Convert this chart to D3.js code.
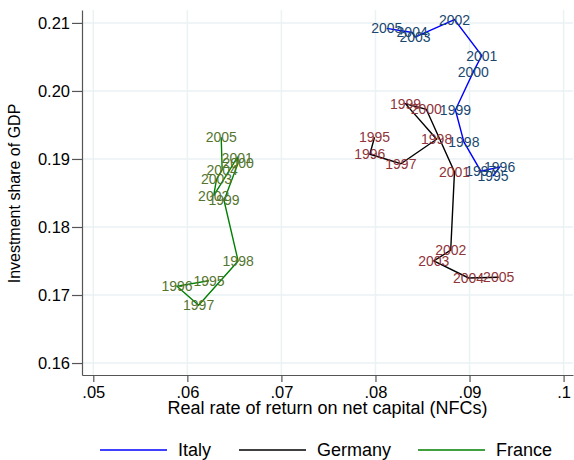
<!DOCTYPE html>
<html>
<head>
<meta charset="utf-8">
<script src="https://cdn.jsdelivr.net/npm/d3@7"></script>
<style>
  body { margin: 0; background: #fff; }
  text { font-family: 'Liberation Sans', Arial, sans-serif; }
</style>
</head>
<body>
<div id="grafica"></div>
<script>
const years = [1995, 1996, 1997, 1998, 1999, 2000, 2001, 2002, 2003, 2004, 2005]

// rate of return (x) and investment share (y) by country
const italyX = [0.0925, 0.0932, 0.0912, 0.0894, 0.0885, 0.0904, 0.0913, 0.0884, 0.0842, 0.0839, 0.0812]
const italyY = [0.1875, 0.1888, 0.1882, 0.1925, 0.1972, 0.2028, 0.2052, 0.2105, 0.2079, 0.2086, 0.2092]

const germanyX = [0.0799, 0.0794, 0.0827, 0.0865, 0.0832, 0.0854, 0.0884, 0.0880, 0.0862, 0.0899, 0.0931]
const germanyY = [0.1932, 0.1907, 0.1893, 0.1929, 0.1981, 0.1973, 0.1881, 0.1766, 0.1750, 0.1725, 0.1726]

const franceX = [0.0623, 0.0589, 0.0612, 0.0654, 0.0639, 0.0654, 0.0653, 0.0628, 0.0631, 0.0637, 0.0636]
const franceY = [0.1721, 0.1713, 0.1685, 0.1750, 0.1839, 0.1894, 0.1902, 0.1846, 0.1870, 0.1884, 0.1932]

const xTicks = [0.05, 0.06, 0.07, 0.08, 0.09, 0.1]
const xTickLabels = ['.05', '.06', '.07', '.08', '.09', '.1']
const yTicks = [0.16, 0.17, 0.18, 0.19, 0.20, 0.21]
const yTickLabels = ['0.16', '0.17', '0.18', '0.19', '0.20', '0.21']

const countries = ['Italy', 'Germany', 'France']

const series = [
    { name: 'Italy', xs: italyX, ys: italyY, line: '#0000ff', label: '#1a476f' },
    { name: 'Germany', xs: germanyX, ys: germanyY, line: '#000000', label: '#90353b' },
    { name: 'France', xs: franceX, ys: franceY, line: '#008000', label: '#55752f' }
]

const margin = { top: 10, right: 1, bottom: 85, left: 82 }
const width = 574 - margin.left - margin.right
const height = 460 - margin.top - margin.bottom
const gridColor = '#eaf2f3'
const axisColor = '#555'

const svg = d3.select('#grafica')
    .append('svg')
    .attr('width', 574)
    .attr('height', 460)
    .append('g')
    .attr('transform', `translate(${margin.left}, ${margin.top})`)

const x = d3.scaleLinear()
    .domain([0.0488, 0.1010])
    .range([0, width])

const y = d3.scaleLinear()
    .domain([0.15824, 0.2119])
    .range([height, 0])

// grid
svg.selectAll('.hgrid')
    .data(yTicks)
    .enter().append('line')
    .attr('x1', 0).attr('x2', width)
    .attr('y1', d => y(d)).attr('y2', d => y(d))
    .style('stroke', gridColor).style('stroke-width', 1.5)

svg.selectAll('.vgrid')
    .data(xTicks)
    .enter().append('line')
    .attr('x1', d => x(d)).attr('x2', d => x(d))
    .attr('y1', 0).attr('y2', height)
    .style('stroke', gridColor).style('stroke-width', 1.5)

// axes
const xAxis = svg.append('g')
    .attr('transform', `translate(0, ${height})`)
    .call(d3.axisBottom(x).tickValues(xTicks).tickFormat((d, i) => xTickLabels[i]).tickSize(7).tickSizeOuter(0).tickPadding(4))

const yAxis = svg.append('g')
    .call(d3.axisLeft(y).tickValues(yTicks).tickFormat((d, i) => yTickLabels[i]).tickSize(10).tickSizeOuter(0).tickPadding(2))

svg.selectAll('.domain, .tick line').style('stroke', axisColor).style('stroke-width', 1.2)
svg.selectAll('.tick text').style('font-size', '16.5px').style('fill', '#000')
    .style('font-family', "'Liberation Sans', Arial, sans-serif")

// series: line then labels
const line = d3.line().x(d => x(d.x)).y(d => y(d.y))

series.forEach(s => {
    const pts = years.map((yr, i) => ({ year: yr, x: s.xs[i], y: s.ys[i] }))
    svg.append('path')
        .datum(pts)
        .attr('d', line)
        .style('fill', 'none')
        .style('stroke', s.line)
        .style('stroke-width', 1.4)

    svg.selectAll('.lab-' + s.name)
        .data(pts)
        .enter().append('text')
        .attr('x', d => x(d.x))
        .attr('y', d => y(d.y))
        .attr('dy', '0.36em')
        .style('text-anchor', 'middle')
        .style('font-size', '14px')
        .style('fill', s.label)
        .text(d => d.year)
})

// axis titles
svg.append('text')
    .attr('x', width / 2)
    .attr('y', height + 39)
    .style('text-anchor', 'middle')
    .style('font-size', '18px')
    .text('Real rate of return on net capital (NFCs)')

svg.append('text')
    .attr('transform', `translate(${-margin.left + 20}, ${height / 2 + 1}) rotate(-90)`)
    .style('text-anchor', 'middle')
    .style('font-size', '16px')
    .text('Investment share of GDP')

// legend
const legX = [100, 239, 418]
const legend = svg.append('g').attr('transform', `translate(${-margin.left}, ${-margin.top})`)
series.forEach((s, i) => {
    legend.append('line')
        .attr('x1', legX[i]).attr('x2', legX[i] + 67)
        .attr('y1', 450).attr('y2', 450)
        .style('stroke', s.line).style('stroke-width', 1.4)
    legend.append('text')
        .attr('x', legX[i] + 78)
        .attr('y', 450)
        .attr('dy', '0.36em')
        .style('font-size', '18px')
        .text(countries[i])
})
</script>
</body>
</html>
